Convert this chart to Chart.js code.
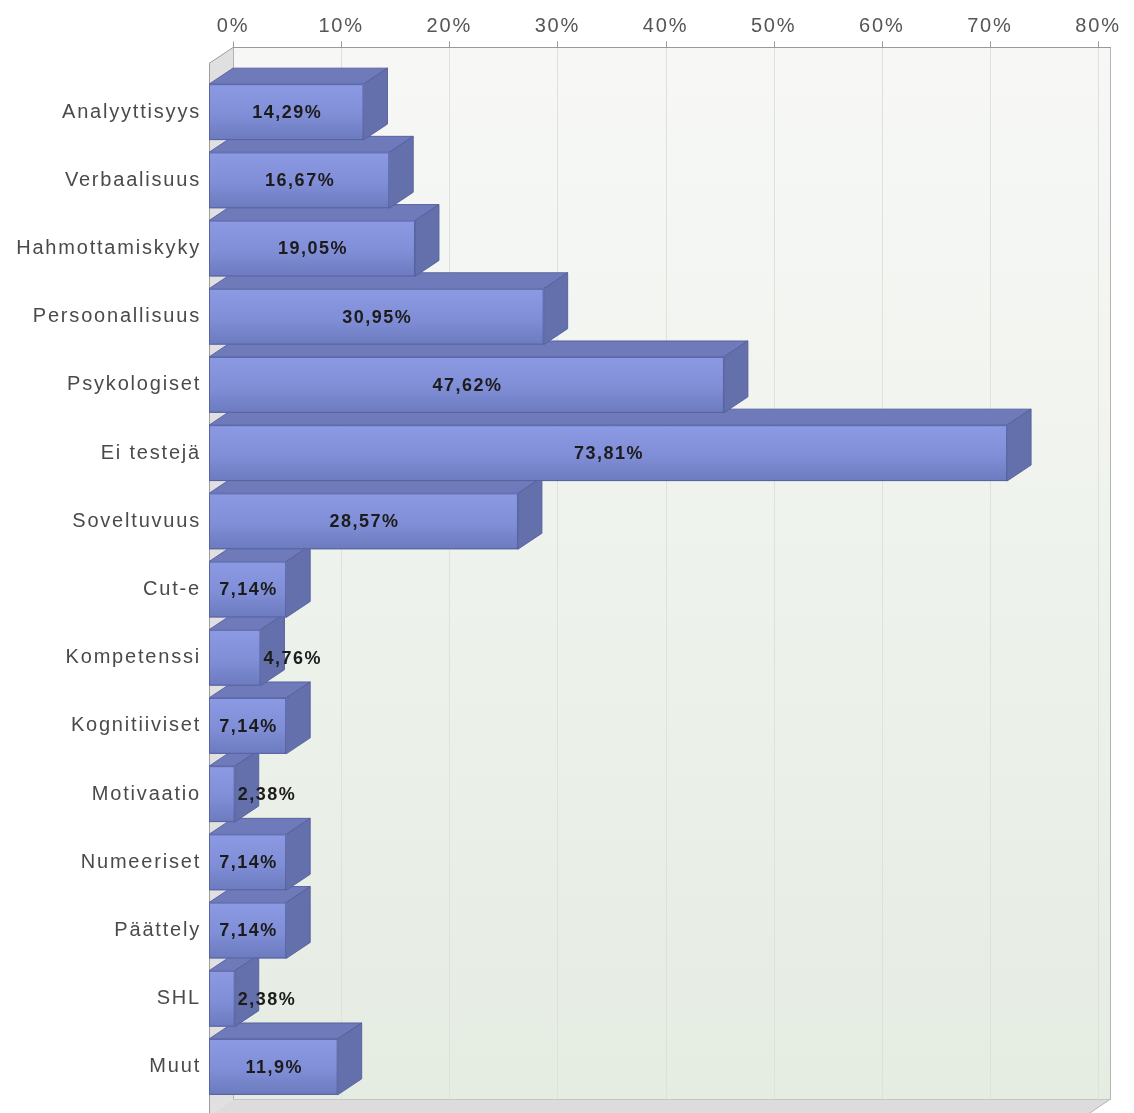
<!DOCTYPE html>
<html lang="fi">
<head>
  <meta charset="UTF-8">
  <title>Testit</title>
  <script src="https://cdn.jsdelivr.net/npm/chart.js"></script>
  <style>
    html, body { margin: 0; padding: 0; background: #fff; overflow: hidden; }
    #wrap { position: relative; width: 1134px; height: 1113px; }
  </style>
</head>
<body>
  <div id="wrap"><canvas id="testChart"></canvas></div>

  <script>
    // Test types and share of answers (%)
    const categories = [
      'Analyyttisyys', 'Verbaalisuus', 'Hahmottamiskyky', 'Persoonallisuus',
      'Psykologiset', 'Ei testejä', 'Soveltuvuus', 'Cut-e', 'Kompetenssi',
      'Kognitiiviset', 'Motivaatio', 'Numeeriset', 'Päättely', 'SHL', 'Muut'
    ];
    const percentages = [14.29, 16.67, 19.05, 30.95, 47.62, 73.81, 28.57, 7.14, 4.76, 7.14, 2.38, 7.14, 7.14, 2.38, 11.9];
    const axisMax = 81.2;
    const axisStep = 10;

    const FONT = '"Liberation Sans", Arial, sans-serif';
    const SPACING = '1.8px';
    const DX = 24;   // depth offset of the 3d box
    const DY = 16;

    const fmt = v => String(v).replace('.', ',') + '%';

    // widen the letters of every text the chart draws
    const spacing = {
      id: 'spacing',
      beforeDraw(chart) {
        chart.ctx.letterSpacing = SPACING;
      }
    };

    // walls, floor, grid and the 3d bars are painted here
    const box3d = {
      id: 'box3d',
      beforeDatasetsDraw(chart) {
        const { ctx, chartArea: a, scales: { x } } = chart;
        const wallTop = a.top - 14.5;
        const wallBottom = a.bottom + 14;
        const left = a.left, right = a.right;

        ctx.save();

        // back wall
        const wg = ctx.createLinearGradient(0, wallTop, 0, wallBottom);
        wg.addColorStop(0, '#f7f8f6');
        wg.addColorStop(1, '#e5ece2');
        ctx.fillStyle = wg;
        ctx.fillRect(left, wallTop, right - left, wallBottom - wallTop);

        // floor
        ctx.fillStyle = '#dcdcdc';
        ctx.beginPath();
        ctx.moveTo(left, wallBottom);
        ctx.lineTo(right, wallBottom);
        ctx.lineTo(right - DX, wallBottom + DY);
        ctx.lineTo(left - DX, wallBottom + DY);
        ctx.closePath();
        ctx.fill();

        // left wall
        ctx.fillStyle = '#e0e0e0';
        ctx.beginPath();
        ctx.moveTo(left - DX, wallTop + DY);
        ctx.lineTo(left, wallTop);
        ctx.lineTo(left, wallBottom);
        ctx.lineTo(left - DX, wallBottom + DY);
        ctx.closePath();
        ctx.fill();

        // grid lines on the back wall
        ctx.lineWidth = 1;
        ctx.strokeStyle = '#dfe1dd';
        x.ticks.forEach(t => {
          if (t.value === 0) return;
          const px = Math.round(x.getPixelForValue(t.value)) + 0.5;
          ctx.beginPath();
          ctx.moveTo(px, wallTop);
          ctx.lineTo(px, wallBottom);
          ctx.stroke();
        });

        // edges
        ctx.strokeStyle = '#c6c6c6';
        ctx.beginPath();
        ctx.moveTo(left, wallBottom + 0.5);
        ctx.lineTo(right, wallBottom + 0.5);
        ctx.stroke();

        ctx.strokeStyle = '#b4b4b4';
        ctx.beginPath();
        ctx.moveTo(left + 0.5, wallTop);
        ctx.lineTo(left + 0.5, wallBottom);
        ctx.moveTo(right - 0.5, wallTop);
        ctx.lineTo(right - 0.5, wallBottom);
        ctx.lineTo(right - DX, wallBottom + DY);
        ctx.stroke();

        ctx.strokeStyle = '#9c9c9c';
        ctx.beginPath();
        ctx.moveTo(left - DX + 0.5, wallTop + DY);
        ctx.lineTo(left - DX + 0.5, wallBottom + DY + 2);
        ctx.moveTo(left - DX, wallTop + DY);
        ctx.lineTo(left, wallTop);
        ctx.stroke();

        // top axis line and tick marks
        ctx.strokeStyle = '#9a9a9a';
        ctx.beginPath();
        ctx.moveTo(left, wallTop);
        ctx.lineTo(right, wallTop);
        x.ticks.forEach(t => {
          const px = Math.round(x.getPixelForValue(t.value)) + 0.5;
          ctx.moveTo(px, wallTop);
          ctx.lineTo(px, wallTop - 6);
        });
        ctx.stroke();

        // bars, drawn bottom-up so upper boxes cover the lower top faces
        const meta = chart.getDatasetMeta(0);
        for (let i = meta.data.length - 1; i >= 0; i--) {
          drawBox(ctx, meta.data[i]);
        }

        // value labels on the front faces
        ctx.font = 'bold 18px ' + FONT;
        ctx.letterSpacing = '1.5px';
        ctx.fillStyle = '#1c1c1c';
        ctx.textBaseline = 'middle';
        meta.data.forEach((el, i) => {
          const txt = fmt(percentages[i]);
          const w = ctx.measureText(txt).width;
          const fx0 = el.base - DX, fx1 = el.x - DX, cy = el.y + DY + 1;
          if (w + 6 < fx1 - fx0) {
            ctx.textAlign = 'center';
            ctx.fillText(txt, (fx0 + fx1) / 2 + 1, cy);
          } else {
            ctx.textAlign = 'left';
            ctx.fillText(txt, fx1 + 3, cy);
          }
        });

        ctx.restore();
        return false;
      }
    };

    function drawBox(ctx, el) {
      const h = el.height / 2;
      const bx = el.base, ex = el.x;
      const ty = el.y - h, by = el.y + h;

      ctx.lineWidth = 1;
      ctx.strokeStyle = 'rgba(84, 94, 156, 0.9)';

      // top face
      ctx.fillStyle = '#6e7aba';
      ctx.beginPath();
      ctx.moveTo(bx - DX, ty + DY);
      ctx.lineTo(ex - DX, ty + DY);
      ctx.lineTo(ex, ty);
      ctx.lineTo(bx, ty);
      ctx.closePath();
      ctx.fill();
      ctx.stroke();

      // right face
      ctx.fillStyle = '#6470ac';
      ctx.beginPath();
      ctx.moveTo(ex - DX, ty + DY);
      ctx.lineTo(ex, ty);
      ctx.lineTo(ex, by);
      ctx.lineTo(ex - DX, by + DY);
      ctx.closePath();
      ctx.fill();
      ctx.stroke();

      // front face
      const g = ctx.createLinearGradient(0, ty + DY, 0, by + DY);
      g.addColorStop(0, '#8b9ae2');
      g.addColorStop(0.55, '#7f8ed6');
      g.addColorStop(1, '#6c7abe');
      ctx.fillStyle = g;
      ctx.fillRect(bx - DX, ty + DY, ex - bx, by - ty);
      ctx.strokeRect(bx - DX + 0.5, ty + DY + 0.5, ex - bx - 1, by - ty - 1);
    }

    new Chart(document.getElementById('testChart'), {
      type: 'bar',
      data: {
        labels: categories,
        datasets: [{
          data: percentages,
          backgroundColor: '#7f8ed6',
          barPercentage: 0.82,
          categoryPercentage: 1
        }]
      },
      options: {
        indexAxis: 'y',
        responsive: true,
        maintainAspectRatio: false,
        animation: false,
        layout: { padding: { top: 0, right: 23, bottom: 28, left: 0 } },
        plugins: {
          legend: { display: false },
          tooltip: { enabled: false }
        },
        scales: {
          x: {
            position: 'top',
            min: 0,
            max: axisMax,
            grid: { display: false, drawTicks: false },
            border: { display: false },
            ticks: {
              stepSize: axisStep,
              includeBounds: false,
              padding: 24,
              color: '#555',
              font: { family: FONT, size: 20 },
              callback: v => v + '%'
            },
            afterFit: s => {
              s.height = 62;
              s.paddingLeft = 0;
              s.paddingRight = 0;
            }
          },
          y: {
            grid: { display: false, drawTicks: false },
            border: { display: false },
            ticks: {
              padding: 32,
              labelOffset: DY,
              color: '#4a4a4a',
              font: { family: FONT, size: 20 }
            },
            afterFit: s => {
              s.width = 233;
              s.paddingTop = 0;
              s.paddingBottom = 0;
            }
          }
        }
      },
      plugins: [spacing, box3d]
    });
  </script>
</body>
</html>
